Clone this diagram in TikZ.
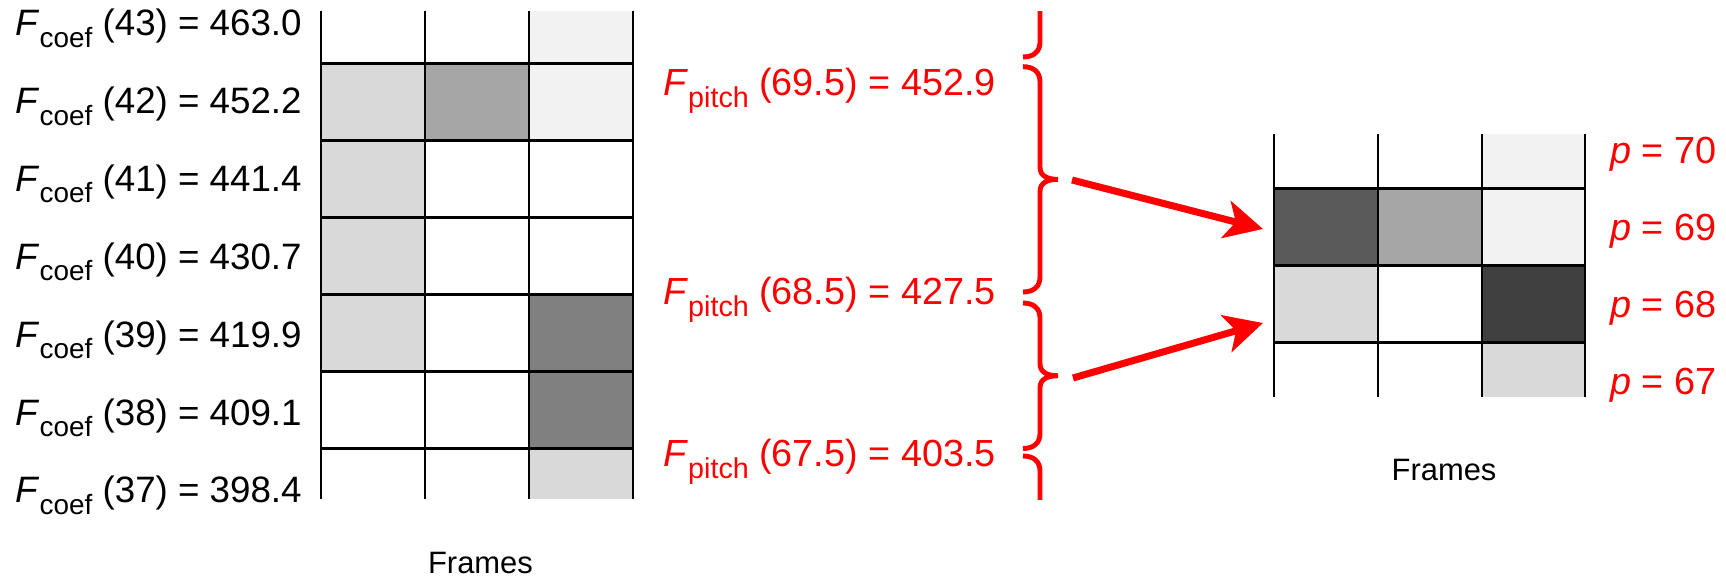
\documentclass[tikz,border=0pt]{standalone}
\usepackage{fontspec}
\setmainfont{Liberation Sans}
\usetikzlibrary{arrows.meta}
\definecolor{paleg}{HTML}{F2F2F2}
\definecolor{lightg}{HTML}{D9D9D9}
\definecolor{midg}{HTML}{A6A6A6}
\definecolor{darkg}{HTML}{808080}
\definecolor{deepg}{HTML}{5A5A5A}
\definecolor{darkestg}{HTML}{404040}
\definecolor{pitchred}{HTML}{FF0000}
\newcommand{\lowsub}[1]{\raisebox{-0.31em}{\fontsize{0.76em}{1em}\selectfont #1}}
\newcommand{\pbrace}[2]{(1023,#1) .. controls (1033,#1) and (1040,#1+5) .. (1040,#1+15)
  -- (1040,{(#1+#2)/2-12}) .. controls (1040,{(#1+#2)/2-3}) and (1048,{(#1+#2)/2}) .. (1058,{(#1+#2)/2})
  .. controls (1048,{(#1+#2)/2}) and (1040,{(#1+#2)/2+3}) .. (1040,{(#1+#2)/2+12})
  -- (1040,#2-15) .. controls (1040,#2-5) and (1033,#2) .. (1023,#2)}
\tikzset{
  coeflbl/.style={anchor=base east,inner sep=0pt,font=\fontsize{20.9pt}{25pt}\selectfont},
  pitchlbl/.style={anchor=base west,inner sep=0pt,text=pitchred,font=\fontsize{21.5pt}{25pt}\selectfont},
  framelbl/.style={anchor=base,inner sep=0pt,font=\fontsize{17.6pt}{20pt}\selectfont},
  gridline/.style={line width=1.4pt},
  redbrace/.style={pitchred,line width=2.8pt},
  redarrow/.style={pitchred,line width=4pt,-{Stealth[length=0.76cm,width=0.76cm,inset=0.2cm]}}
}
\begin{document}
\begin{tikzpicture}[x=0.02cm,y=-0.02cm]
        \useasboundingbox (0,0) rectangle (1726,577);
        \fill[paleg] (529,11.5) rectangle (633,140.5);
        \fill[lightg] (321,63.5) rectangle (425,371.5);
        \fill[midg] (425,63.5) rectangle (529,140.5);
        \fill[darkg] (529,294.5) rectangle (633,448.5);
        \fill[lightg] (529,448.5) rectangle (633,499);
        \draw[gridline] (321,11.5) -- (321,499) (425,11.5) -- (425,499) (529,11.5) -- (529,499) (633,11.5) -- (633,499);
        \draw[gridline] (321,63.5) -- (633,63.5) (321,140.5) -- (633,140.5) (321,217.5) -- (633,217.5)
          (321,294.5) -- (633,294.5) (321,371.5) -- (633,371.5) (321,448.5) -- (633,448.5);
        \node[coeflbl] (c43) at (302,36) {\textit{F}\lowsub{coef} (43) = 463.0};
        \node[coeflbl] (c42) at (302,113.8) {\textit{F}\lowsub{coef} (42) = 452.2};
        \node[coeflbl] (c41) at (302,191.6) {\textit{F}\lowsub{coef} (41) = 441.4};
        \node[coeflbl] (c40) at (302,269.4) {\textit{F}\lowsub{coef} (40) = 430.7};
        \node[coeflbl] (c39) at (302,347.2) {\textit{F}\lowsub{coef} (39) = 419.9};
        \node[coeflbl] (c38) at (302,425) {\textit{F}\lowsub{coef} (38) = 409.1};
        \node[coeflbl] (c37) at (302,502.8) {\textit{F}\lowsub{coef} (37) = 398.4};
        \node[framelbl] (frleft) at (480.5,573) {Frames};
        \node[pitchlbl] (f695) at (663,95.5) {\textit{F}\lowsub{pitch} (69.5) = 452.9};
        \node[pitchlbl] (f685) at (663,305) {\textit{F}\lowsub{pitch} (68.5) = 427.5};
        \node[pitchlbl] (f675) at (663,466.5) {\textit{F}\lowsub{pitch} (67.5) = 403.5};
        \begin{scope}
          \clip (1000,11.5) rectangle (1100,499);
          \draw[redbrace] \pbrace{-175}{57};
          \draw[redbrace] \pbrace{66.7}{292};
          \draw[redbrace] \pbrace{303}{448.5};
          \draw[redbrace] \pbrace{456}{690};
        \end{scope}
        \fill[paleg] (1482,134) rectangle (1585,265.3);
        \fill[deepg] (1274,188.3) rectangle (1378,265.3);
        \fill[midg] (1378,188.3) rectangle (1482,265.3);
        \fill[lightg] (1274,265.3) rectangle (1378,342.3);
        \fill[darkestg] (1482,265.3) rectangle (1585,342.3);
        \fill[lightg] (1482,342.3) rectangle (1585,396.7);
        \draw[gridline] (1274,134) -- (1274,396.7) (1378,134) -- (1378,396.7) (1482,134) -- (1482,396.7) (1585,134) -- (1585,396.7);
        \draw[gridline] (1274,188.3) -- (1585,188.3) (1274,265.3) -- (1585,265.3) (1274,342.3) -- (1585,342.3);
        \node[pitchlbl] (p70) at (1610,163.5) {\textit{p} = 70};
        \node[pitchlbl] (p69) at (1610,240.5) {\textit{p} = 69};
        \node[pitchlbl] (p68) at (1610,317.5) {\textit{p} = 68};
        \node[pitchlbl] (p67) at (1610,394.5) {\textit{p} = 67};
        \node[framelbl] (frright) at (1444,480) {Frames};
        \coordinate (cusp69) at (1072,180);
        \coordinate (cusp68) at (1073,378);
        \coordinate (row69) at (1263,229);
        \coordinate (row68) at (1263,323);
        \draw[redarrow] (cusp69) -- (row69);
        \draw[redarrow] (cusp68) -- (row68);
      \end{tikzpicture}
\end{document}
